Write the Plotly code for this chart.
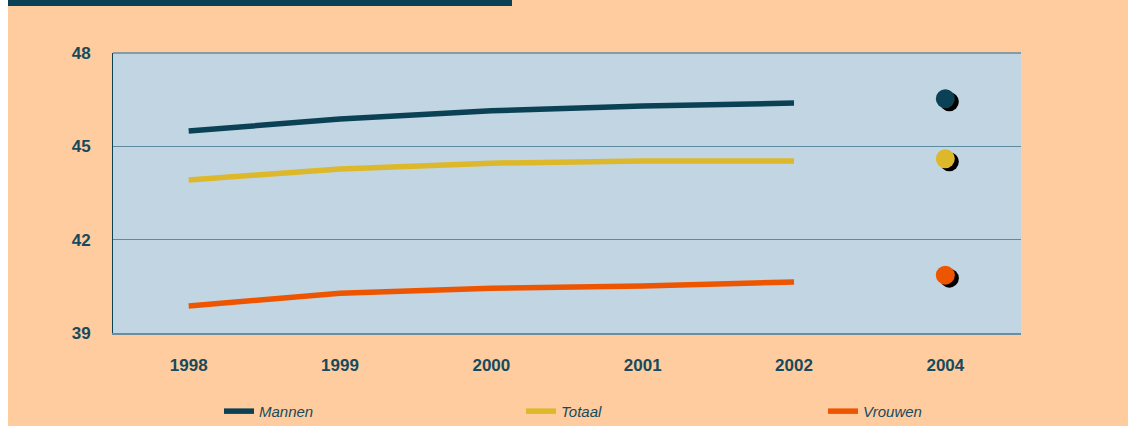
import plotly.graph_objects as go

years = ["1998", "1999", "2000", "2001", "2002", "2004"]
line_years = ["1998", "1999", "2000", "2001", "2002"]
mannen = [45.49, 45.88, 46.14, 46.30, 46.39]
totaal = [43.92, 44.27, 44.46, 44.53, 44.53]
vrouwen = [39.87, 40.28, 40.44, 40.51, 40.64]
forecast_year = ["2004"]
mannen_2004 = [46.53]
totaal_2004 = [44.60]
vrouwen_2004 = [40.86]
y_ticks = [39, 42, 45, 48]

C_M = "#0B4155"
C_T = "#DDB82B"
C_V = "#EE5500"
TXT = "#174A5C"
FONT = "Liberation Sans, Arial, sans-serif"

W, H = 1128, 426
ML, MR, MT, MB = 113, 107, 53, 93
PW = W - ML - MR
PH = H - MT - MB

# shadow offset in pixels (right, down)
dx_px, dy_px = 4, 3
dx = dx_px / (PW / 6.0)
dy = dy_px / (PH / 9.0)

fig = go.Figure()

# shadows on the (hidden) main axes, which are shifted slightly
for vals in (mannen_2004, totaal_2004, vrouwen_2004):
    fig.add_trace(go.Scatter(x=forecast_year, y=vals, mode="markers",
                             marker=dict(size=19, color="#000000"),
                             showlegend=False, hoverinfo="skip",
                             xaxis="x", yaxis="y"))

for name, vals, col in (("Mannen", mannen, C_M),
                        ("Totaal", totaal, C_T),
                        ("Vrouwen", vrouwen, C_V)):
    fig.add_trace(go.Scatter(x=line_years, y=vals, mode="lines", name=name,
                             line=dict(color=col, width=5.5),
                             xaxis="x2", yaxis="y2"))
for vals, col in ((mannen_2004, C_M), (totaal_2004, C_T), (vrouwen_2004, C_V)):
    fig.add_trace(go.Scatter(x=forecast_year, y=vals, mode="markers",
                             marker=dict(size=19, color=col),
                             showlegend=False, xaxis="x2", yaxis="y2"))

fig.update_layout(
    width=W, height=H,
    margin=dict(l=ML, r=MR, t=MT, b=MB, autoexpand=False),
    paper_bgcolor="#FFCC9F",
    plot_bgcolor="#C2D5E2",
    font=dict(family=FONT, color=TXT),
    xaxis=dict(type="category", categoryorder="array", categoryarray=years,
               range=[-0.5 - dx, 5.5 - dx], visible=False, fixedrange=True),
    yaxis=dict(range=[39 + dy, 48 + dy], visible=False, fixedrange=True),
    xaxis2=dict(type="category", categoryorder="array", categoryarray=years,
                range=[-0.5, 5.5], overlaying="x", side="bottom",
                showgrid=False, showline=True, linecolor="#6B8E9E", linewidth=2,
                ticks="", ticklabelstandoff=16,
                tickfont=dict(size=17, weight="bold", color=TXT, family=FONT)),
    yaxis2=dict(range=[39, 48], overlaying="y", side="left",
                tickvals=y_ticks, ticks="", showgrid=True,
                gridcolor="#5F8BA0", gridwidth=1,
                showline=True, linecolor=C_M, linewidth=1,
                zeroline=False, ticklabelstandoff=18,
                tickfont=dict(size=17, weight="bold", color=TXT, family=FONT)),
    legend=dict(orientation="h", xref="container", x=219 / W, xanchor="left",
                y=-0.28, yanchor="middle", bgcolor="rgba(0,0,0,0)",
                entrywidth=257, entrywidthmode="pixels",
                font=dict(size=15, style="italic", color=TXT, family=FONT)),
    shapes=[
        dict(type="line", xref="paper", yref="paper", x0=0, x1=1, y0=1, y1=1,
             line=dict(color="#5F8BA0", width=1.5), layer="above"),
        dict(type="rect", xref="paper", yref="paper",
             x0=(7 - ML) / PW, x1=(512 - ML) / PW,
             y0=(PH + MT - 6) / PH, y1=(PH + MT) / PH,
             fillcolor=C_M, line=dict(width=0), layer="above"),
        dict(type="rect", xref="paper", yref="paper",
             x0=-ML / PW, x1=(8 - ML) / PW,
             y0=-MB / PH, y1=(PH + MT) / PH,
             fillcolor="#FFFFFF", line=dict(width=0), layer="above"),
    ],
)

fig.write_html("out.html")
